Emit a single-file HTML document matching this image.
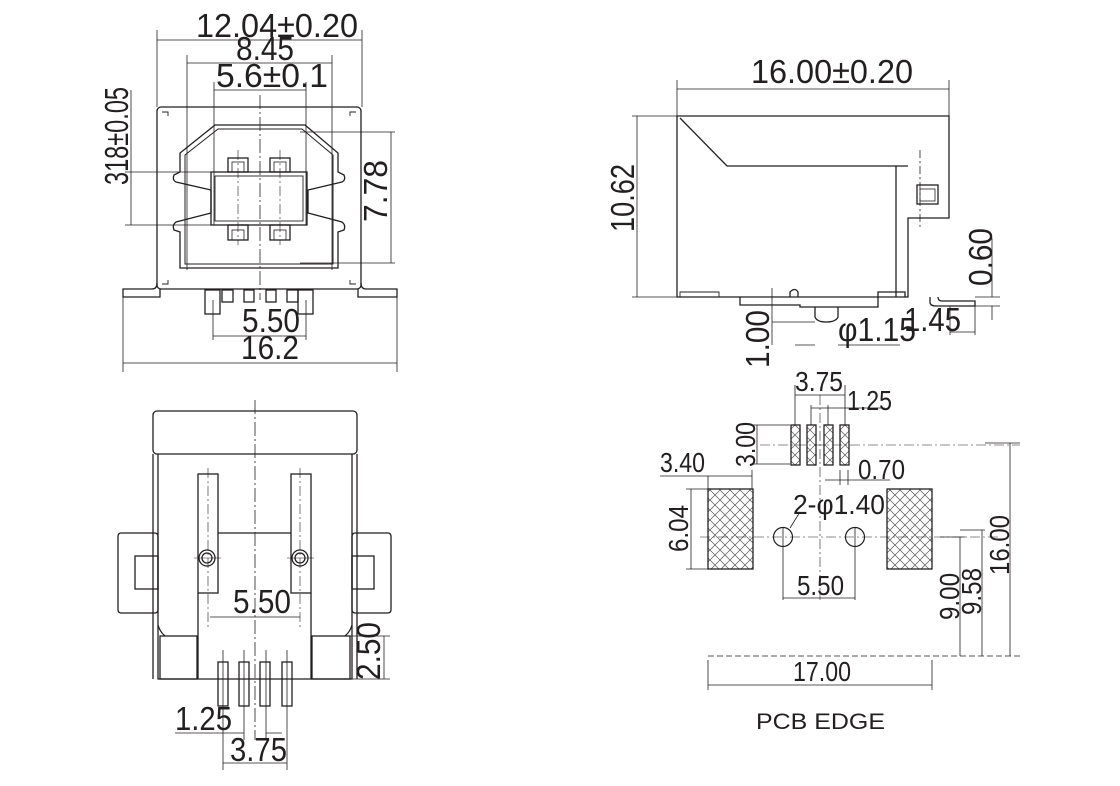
<!DOCTYPE html>
<html><head><meta charset="utf-8"><style>
html,body{margin:0;padding:0;background:#fff}
svg{display:block}
text{font-family:"Liberation Sans",Arial,sans-serif;fill:#231f20}
</style></head><body>
<svg width="1120" height="786" viewBox="0 0 1120 786" xmlns="http://www.w3.org/2000/svg">
<defs>
<pattern id="h" width="10" height="10" patternUnits="userSpaceOnUse">
<path d="M0,0 L10,10 M10,0 L0,10" stroke="#555" stroke-width="0.7"/>
</pattern>
</defs>
<g fill="none" stroke="#231f20" stroke-width="1.3">
<rect x="157" y="107" width="204" height="182" rx="4"/>
<path d="M160,289 L160,297 L123,297 L123,289 L152,289 Q157,289 157,283"/>
<path d="M358,289 L358,297 L397,297 L397,289 L366,289 Q361,289 361,283"/>
<path d="M215,125 L305,125 L338,153 L338,172 L344,175 Q346,180 342,182 L308,190 L308,213 L342,222 Q346,225 344,230 L338,232 L338,268 L180,268 L180,232 L174,230 Q172,225 176,222 L211,213 L211,190 L176,182 Q172,180 174,175 L180,172 L180,153 Z"/>
<path d="M218,129 L302,129 L333,155 L333,264 L185,264 L185,155 Z" stroke-width="1"/>
<rect x="211" y="172" width="96" height="53"/>
<rect x="215" y="176" width="88" height="45" stroke-width="0.9"/>
<rect x="228" y="158" width="20" height="14"/><rect x="232" y="162" width="12" height="10" stroke-width="0.8"/>
<rect x="270" y="158" width="20" height="14"/><rect x="274" y="162" width="12" height="10" stroke-width="0.8"/>
<rect x="228" y="225" width="20" height="15"/><rect x="232" y="230" width="12" height="10" stroke-width="0.8"/>
<rect x="270" y="225" width="20" height="15"/><rect x="274" y="230" width="12" height="10" stroke-width="0.8"/>
<rect x="205" y="290" width="15" height="24"/><rect x="298" y="290" width="15" height="24"/>
<rect x="222" y="290" width="11" height="12"/><rect x="244" y="290" width="10" height="12"/>
<rect x="266" y="290" width="10" height="12"/><rect x="287" y="290" width="11" height="12"/>
<path d="M162,112 h6 v4 M356,112 h-6 v4 M162,284 h6 v-4 M356,284 h-6 v-4" stroke-width="0.9"/>
</g>
<g fill="none" stroke="#231f20" stroke-width="0.8">
<path d="M157,30 V107 M362,30 V107 M187,55 V270 M332,55 V270 M214,82 V225 M306,82 V225"/>
<path d="M157,40 H362 M187,63 H332 M214,90 H306"/>
<path d="M125,172 H211 M125,225 H211 M131,90 V225"/>
<path d="M300,132 H395 M300,263 H395 M391,132 V263"/>
<path d="M213,300 V340 M306,300 V340 M213,336 H306"/>
<path d="M123,297 V372 M397,297 V372 M123,363 H397"/>
<path d="M260,95 V300" stroke-dasharray="14,3,2,3"/>
<path d="M238,150 V245 M280,150 V245" stroke-dasharray="10,3,2,3" stroke-width="0.6"/>
</g>
<text x="196" y="37" font-size="33" textLength="162" lengthAdjust="spacingAndGlyphs">12.04±0.20</text>
<text x="236" y="60" font-size="33" textLength="58" lengthAdjust="spacingAndGlyphs">8.45</text>
<text x="216" y="87" font-size="33" textLength="112" lengthAdjust="spacingAndGlyphs">5.6±0.1</text>
<text transform="translate(128,185) rotate(-90)" font-size="33" textLength="98" lengthAdjust="spacingAndGlyphs">318±0.05</text>
<text transform="translate(387,222) rotate(-90)" font-size="33" textLength="62" lengthAdjust="spacingAndGlyphs">7.78</text>
<text x="242" y="332" font-size="33" textLength="58" lengthAdjust="spacingAndGlyphs">5.50</text>
<text x="241" y="359" font-size="33" textLength="58" lengthAdjust="spacingAndGlyphs">16.2</text>

<g fill="none" stroke="#231f20" stroke-width="1.3">
<rect x="153" y="411" width="204" height="43" rx="4"/>
<path d="M158,454 V679 H352 V454"/>
<path d="M153,454 V679 M357,454 V679"/>
<rect x="118" y="533" width="40" height="80" rx="3"/><rect x="135" y="556" width="23" height="33"/>
<rect x="352" y="533" width="39" height="80" rx="3"/><rect x="352" y="556" width="22" height="33"/>
<rect x="198" y="474" width="20" height="119"/><rect x="291" y="474" width="20" height="119"/>
<circle cx="207" cy="558" r="8"/><circle cx="207" cy="558" r="5"/>
<circle cx="300" cy="558" r="8"/><circle cx="300" cy="558" r="5"/>
<path d="M218,533 H291 M198,593 V679 M311,593 V679"/>
<rect x="160" y="636" width="37" height="43"/><rect x="312" y="636" width="38" height="43"/>
<path d="M158,625 Q160,632 165,636 M352,625 Q350,632 345,636"/>
<rect x="218" y="662" width="10" height="44"/><rect x="239" y="662" width="10" height="44"/>
<rect x="260" y="662" width="10" height="44"/><rect x="282" y="662" width="10" height="44"/>
</g>
<g fill="none" stroke="#231f20" stroke-width="0.8">
<path d="M255,400 V740" stroke-dasharray="14,3,2,3"/>
<path d="M208,468 V630 M300,468 V630" stroke-dasharray="10,3,2,3" stroke-width="0.6"/>
<path d="M194,558 H221 M287,558 H314" stroke-width="0.6"/>
<path d="M210,617 H300"/>
<path d="M350,636 H390 M350,679 H390 M384,636 V679"/>
<path d="M223,650 V770 M244,650 V740 M266,650 V740 M287,650 V770"/>
<path d="M175,733 H244 M266,733 H282 M223,763 H287"/>
</g>
<text x="233" y="613" font-size="33" textLength="58" lengthAdjust="spacingAndGlyphs">5.50</text>
<text transform="translate(380,680) rotate(-90)" font-size="33" textLength="58" lengthAdjust="spacingAndGlyphs">2.50</text>
<text x="175" y="730" font-size="33" textLength="57" lengthAdjust="spacingAndGlyphs">1.25</text>
<text x="230" y="761" font-size="33" textLength="57" lengthAdjust="spacingAndGlyphs">3.75</text>

<g fill="none" stroke="#231f20" stroke-width="1.3">
<path d="M677,297 V116 H949 V218 H908 V297 Z"/>
<path d="M680,118 L727,166 H908 M896,166 V297"/>
<rect x="917" y="185" width="21" height="19"/><rect x="920" y="189" width="15" height="12" stroke-width="0.8"/>
<path d="M740,297 V305 H800 V307 H878 V292 H905 V297"/>
<path d="M790,297 V292 Q795,287 798,292 V297"/>
<path d="M815,307 V317 Q817,322 826,322 Q836,322 838,317 V307"/>
<path d="M930,297 V303 Q931,306 936,306 H975 V301 H942 Q938,301 938,297"/>
<path d="M680,297 V292 H719 V297" stroke-width="0.9"/>
</g>
<g fill="none" stroke="#231f20" stroke-width="0.8">
<path d="M677,80 V116 M949,80 V116 M677,89 H949"/>
<path d="M632,116 H677 M632,297 H677 M637,116 V297"/>
<path d="M920,150 V230" stroke-dasharray="8,3,2,3"/>
<path d="M975,297 H1000 M975,306 H1000 M992,238 V297 M992,306 V320"/>
<path d="M772,288 V345 M772,322 H815 M795,345 H815 M838,345 H900"/>
<path d="M950,306 V335 M975,306 V335 M950,332 H975"/>
</g>
<text x="751" y="83" font-size="33" textLength="162" lengthAdjust="spacingAndGlyphs">16.00±0.20</text>
<text transform="translate(634,232) rotate(-90)" font-size="33" textLength="68" lengthAdjust="spacingAndGlyphs">10.62</text>
<text transform="translate(992,286) rotate(-90)" font-size="33" textLength="58" lengthAdjust="spacingAndGlyphs">0.60</text>
<text transform="translate(769,368) rotate(-90)" font-size="33" textLength="58" lengthAdjust="spacingAndGlyphs">1.00</text>
<text x="838" y="341" font-size="33" textLength="78" lengthAdjust="spacingAndGlyphs">φ1.15</text>
<text x="904" y="331" font-size="33" textLength="57" lengthAdjust="spacingAndGlyphs">1.45</text>

<g stroke="#231f20" stroke-width="1.3" fill="url(#h)">
<rect x="791" y="425" width="9" height="40"/><rect x="807" y="425" width="9" height="40"/>
<rect x="824" y="425" width="9" height="40"/><rect x="840" y="425" width="9" height="40"/>
<rect x="708" y="489" width="45" height="80"/><rect x="887" y="489" width="45" height="80"/>
</g>
<g fill="none" stroke="#231f20" stroke-width="1.2">
<circle cx="783" cy="537" r="9.5"/><circle cx="855" cy="537" r="9.5"/>
</g>
<g fill="none" stroke="#231f20" stroke-width="0.8">
<path d="M795,385 V425 M845,385 V425 M811,405 V425 M828,405 V425 M795,395 H845 M811,408 H885"/>
<path d="M752,425 H790 M752,464 H790 M757,425 V464"/>
<path d="M660,476 H752 M708,476 V489 M752,470 V489"/>
<path d="M825,480 H890 M840,470 V485 M848,470 V485"/>
<path d="M686,489 H708 M686,569 H708 M691,489 V569"/>
<path d="M820,395 V600 M700,537 H1000 M760,445 H1020" stroke-dasharray="10,3,2,3" stroke-width="0.6"/>
<path d="M783,527 V600 M855,527 V600 M783,598 H855"/>
<path d="M790,528 L800,512"/>
<path d="M940,537 H965 M960,537 V656 M960,530 H985 M982,530 V656 M1010,443 V656 M985,443 H1020"/>
<path d="M708,656 H1020" stroke-dasharray="6,3"/>
<path d="M708,660 V690 M932,660 V690 M708,685 H932"/>
</g>
<text x="795" y="391" font-size="28" textLength="48" lengthAdjust="spacingAndGlyphs">3.75</text>
<text x="847" y="410" font-size="28" textLength="45" lengthAdjust="spacingAndGlyphs">1.25</text>
<text transform="translate(755,467) rotate(-90)" font-size="28" textLength="45" lengthAdjust="spacingAndGlyphs">3.00</text>
<text x="660" y="472" font-size="28" textLength="45" lengthAdjust="spacingAndGlyphs">3.40</text>
<text x="858" y="479" font-size="28" textLength="47" lengthAdjust="spacingAndGlyphs">0.70</text>
<text transform="translate(688,552) rotate(-90)" font-size="28" textLength="47" lengthAdjust="spacingAndGlyphs">6.04</text>
<text x="793" y="514" font-size="28" textLength="92" lengthAdjust="spacingAndGlyphs">2-φ1.40</text>
<text x="797" y="595" font-size="28" textLength="47" lengthAdjust="spacingAndGlyphs">5.50</text>
<text transform="translate(959,620) rotate(-90)" font-size="28" textLength="47" lengthAdjust="spacingAndGlyphs">9.00</text>
<text transform="translate(981,615) rotate(-90)" font-size="28" textLength="47" lengthAdjust="spacingAndGlyphs">9.58</text>
<text transform="translate(1009,575) rotate(-90)" font-size="28" textLength="60" lengthAdjust="spacingAndGlyphs">16.00</text>
<text x="793" y="681" font-size="28" textLength="58" lengthAdjust="spacingAndGlyphs">17.00</text>
<text x="756" y="729" font-size="22" textLength="129" lengthAdjust="spacingAndGlyphs">PCB  EDGE</text>
</svg>
</body></html>
